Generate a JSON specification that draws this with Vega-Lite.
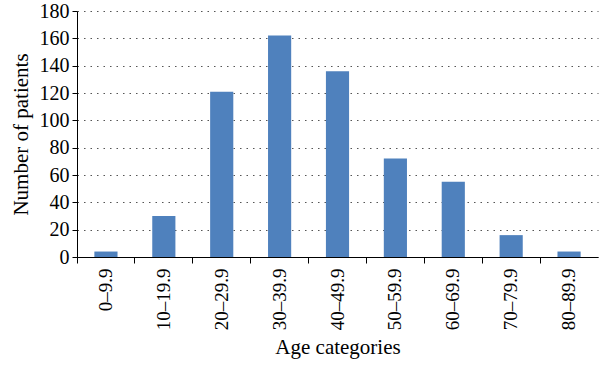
{
  "$schema": "https://vega.github.io/schema/vega-lite/v6.json",
  "width": 521,
  "height": 246,
  "autosize": {"type": "none"},
  "padding": {"left": 77, "top": 11, "right": 2, "bottom": 112},
  "background": "white",
  "config": {"view": {"stroke": null}, "font": "Liberation Serif"},
  "data": {
    "values": [
      {"age": "0–9.9", "count": 4},
      {"age": "10–19.9", "count": 30},
      {"age": "20–29.9", "count": 121},
      {"age": "30–39.9", "count": 162},
      {"age": "40–49.9", "count": 136},
      {"age": "50–59.9", "count": 72},
      {"age": "60–69.9", "count": 55},
      {"age": "70–79.9", "count": 16},
      {"age": "80–89.9", "count": 4}
    ]
  },
  "layer": [
    {
      "mark": {"type": "bar", "color": "#4F81BD", "width": {"band": 0.4}},
      "encoding": {
        "x": {
          "field": "age", "type": "ordinal", "sort": null,
          "scale": {"paddingInner": 0, "paddingOuter": 0},
          "axis": {
            "orient": "bottom", "title": "Age categories", "ticks": false,
            "labelAngle": -90, "labelFontSize": 19, "labelColor": "black",
            "labelPadding": 11, "domainColor": "black", "domainWidth": 1,
            "titleFontSize": 21, "titleFontWeight": "normal", "titleColor": "black",
            "titlePadding": 7
          }
        },
        "y": {
          "field": "count", "type": "quantitative",
          "scale": {"domain": [0, 180]},
          "axis": {
            "title": "Number of patients", "values": [0, 20, 40, 60, 80, 100, 120, 140, 160, 180],
            "grid": true, "gridDash": [1.5, 5], "gridColor": "#555", "gridWidth": 1.2,
            "domainColor": "black", "tickColor": "black", "tickSize": 5,
            "labelFontSize": 20, "labelColor": "black", "labelPadding": 3,
            "titleFontSize": 21, "titleFontWeight": "normal", "titleColor": "black",
            "titlePadding": 8
          }
        }
      }
    },
    {
      "mark": {"type": "rule", "opacity": 0},
      "encoding": {
        "x": {
          "field": "age", "type": "ordinal", "sort": null,
          "axis": {
            "orient": "bottom", "labels": false, "title": null, "domain": false,
            "ticks": true, "bandPosition": 0, "tickSize": 6, "tickColor": "black",
            "grid": false
          }
        }
      }
    }
  ],
  "resolve": {"axis": {"x": "independent"}}
}
